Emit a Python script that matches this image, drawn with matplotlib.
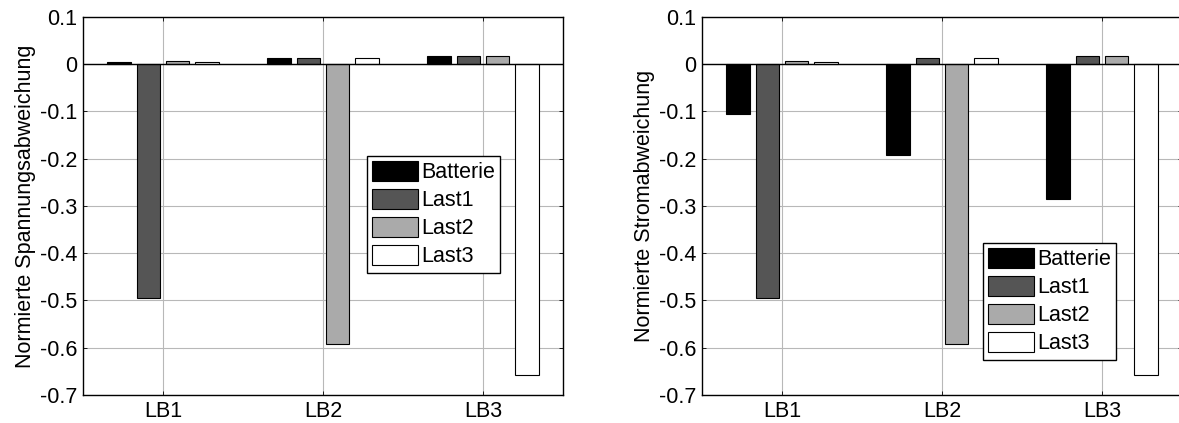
import numpy as np
import matplotlib
matplotlib.use('Agg')
import matplotlib.pyplot as plt

plt.rcParams['font.family'] = ['Liberation Sans', 'DejaVu Sans']

# Daten
gruppen = ['LB1', 'LB2', 'LB3']
serien = ['Batterie', 'Last1', 'Last2', 'Last3']
farben = ['#000000', '#555555', '#aaaaaa', '#ffffff']

# Spannungsabweichung (links), je Serie: LB1..LB3
spannung_batterie = [0.004, 0.012, 0.017]
spannung_last1 = [-0.495, 0.012, 0.017]
spannung_last2 = [0.006, -0.592, 0.017]
spannung_last3 = [0.004, 0.012, -0.657]

# Stromabweichung (rechts)
strom_batterie = [-0.105, -0.192, -0.285]
strom_last1 = [-0.495, 0.012, 0.017]
strom_last2 = [0.006, -0.592, 0.017]
strom_last3 = [0.004, 0.012, -0.657]

yticks = np.round(np.arange(-0.7, 0.11, 0.1), 1)
ytick_labels = ['-0.7', '-0.6', '-0.5', '-0.4', '-0.3', '-0.2', '-0.1', '0', '0.1']

W, H = 1179, 423
fs = 15.5
fig = plt.figure(figsize=(W / 100, H / 100), dpi=100)

def px_axes(x0, x1, y0, y1):
    # Pixel-Koordinaten (oben links) -> Figure-Anteile
    return fig.add_axes([x0 / W, 1 - y1 / H, (x1 - x0) / W, (y1 - y0) / H])

def zeichne(ax, daten, ylabel, leg_xy):
    x = np.arange(1, len(gruppen) + 1)
    abstand = 0.182
    breite = 0.148
    ax.set_axisbelow(True)
    for i, (name, werte, farbe) in enumerate(zip(serien, daten, farben)):
        ax.bar(x + (i - 1.5) * abstand, werte, breite, color=farbe,
               edgecolor='black', linewidth=0.8, label=name, zorder=2)
    ax.axhline(0, color='black', linewidth=1.0, zorder=3)
    ax.set_xlim(0.5, 3.5)
    ax.set_ylim(-0.7, 0.1)
    ax.set_xticks(x)
    ax.set_xticklabels(gruppen)
    ax.set_yticks(yticks)
    ax.set_yticklabels(ytick_labels)
    ax.tick_params(direction='in', length=3, width=0.6, labelsize=fs,
                   top=True, right=True, pad=4)
    ax.grid(True, color='#b8b8b8', linewidth=0.8, linestyle='-')
    for s in ax.spines.values():
        s.set_linewidth(1.0)
    ax.set_ylabel(ylabel, fontsize=fs, labelpad=3)
    leg = ax.legend(loc='upper left', bbox_to_anchor=(leg_xy[0] / W, 1 - leg_xy[1] / H),
                    bbox_transform=fig.transFigure, borderaxespad=0,
                    fontsize=fs, handlelength=2.1, handleheight=1.0,
                    labelspacing=0.28, handletextpad=0.15, borderpad=0.25,
                    fancybox=False, framealpha=1, edgecolor='black')
    leg.get_frame().set_linewidth(1.0)

ax1 = px_axes(83, 563, 16.7, 395)
zeichne(ax1, [spannung_batterie, spannung_last1, spannung_last2, spannung_last3],
        'Normierte Spannungsabweichung', (367, 156))

ax2 = px_axes(702, 1182, 16.7, 395)
zeichne(ax2, [strom_batterie, strom_last1, strom_last2, strom_last3],
        'Normierte Stromabweichung', (983, 243))

fig.savefig('out.png', dpi=100)
